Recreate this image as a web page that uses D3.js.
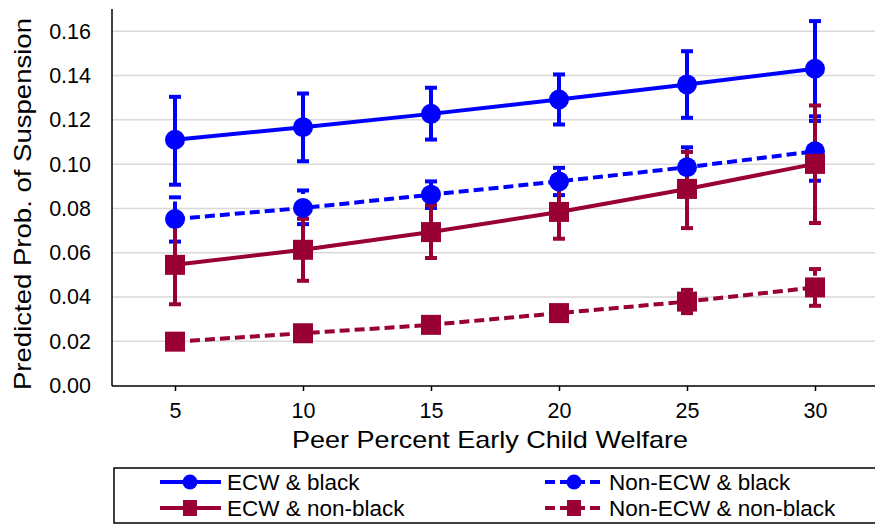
<!DOCTYPE html>
<html>
<head>
<meta charset="utf-8">
<script src="https://cdn.jsdelivr.net/npm/d3@7"></script>
<style>
  html, body { margin: 0; padding: 0; background: #fff; }
  svg { display: block; font-family: "Liberation Sans", Arial, sans-serif; }
</style>
</head>
<body>
<svg id="chart" width="875" height="525"></svg>
<script>
// ---- Data ----
const xValues = [5, 10, 15, 20, 25, 30];
const xTickLabels = ["5", "10", "15", "20", "25", "30"];
const yTickValues = [0, 0.02, 0.04, 0.06, 0.08, 0.10, 0.12, 0.14, 0.16];

const seriesNames = ["ECW & black", "Non-ECW & black", "ECW & non-black", "Non-ECW & non-black"];

const ecwBlack      = [0.1110, 0.1167, 0.1227, 0.1292, 0.1360, 0.1431];
const ecwBlackLo    = [0.0907, 0.1013, 0.1111, 0.1179, 0.1209, 0.1216];
const ecwBlackHi    = [0.1304, 0.1319, 0.1345, 0.1405, 0.1510, 0.1646];

const nonEcwBlack   = [0.0752, 0.0802, 0.0862, 0.0922, 0.0986, 0.1058];
const nonEcwBlackLo = [0.0650, 0.0729, 0.0802, 0.0860, 0.0896, 0.0925];
const nonEcwBlackHi = [0.0850, 0.0881, 0.0922, 0.0983, 0.1076, 0.1195];

const ecwNonBlack   = [0.0545, 0.0613, 0.0693, 0.0784, 0.0888, 0.1001];
const ecwNonBlackLo = [0.0367, 0.0473, 0.0576, 0.0663, 0.0711, 0.0734];
const ecwNonBlackHi = [0.0723, 0.0753, 0.0815, 0.0905, 0.1055, 0.1265];

const nonEcwNonBlack   = [0.0198, 0.0236, 0.0274, 0.0327, 0.0379, 0.0443];
const nonEcwNonBlackLo = [0.0180, 0.0216, 0.0252, 0.0300, 0.0327, 0.0360];
const nonEcwNonBlackHi = [0.0216, 0.0256, 0.0296, 0.0354, 0.0432, 0.0526];

// ---- Styles (kept separate from data) ----
const BLUE = "#0000ff", RED = "#990033";
const styles = [
  { color: BLUE, dashed: false, marker: "circle" },
  { color: BLUE, dashed: true,  marker: "circle" },
  { color: RED,  dashed: false, marker: "square" },
  { color: RED,  dashed: true,  marker: "square" }
];
const seriesData = [
  [ecwBlack, ecwBlackLo, ecwBlackHi],
  [nonEcwBlack, nonEcwBlackLo, nonEcwBlackHi],
  [ecwNonBlack, ecwNonBlackLo, ecwNonBlackHi],
  [nonEcwNonBlack, nonEcwNonBlackLo, nonEcwNonBlackHi]
];
const series = seriesNames.map((name, i) => ({
  name, ...styles[i],
  points: xValues.map((x, j) => ({ x, y: seriesData[i][0][j], lo: seriesData[i][1][j], hi: seriesData[i][2][j] }))
}));

const DASH = "10,5";
const svg = d3.select("#chart");
const W = 875;
const left = 112, axisY = 386;

const x = d3.scaleLinear().domain([2.5, 32.5]).range([111, 879]);
const y = d3.scaleLinear().domain([0, 0.17]).range([385.5, 385.5 - 0.17 * 2213.75]);

// gridlines
svg.append("g").selectAll("line")
  .data(yTickValues.filter(d => d > 0))
  .join("line")
  .attr("x1", left).attr("x2", W)
  .attr("y1", d => y(d)).attr("y2", d => y(d))
  .attr("stroke", "#d9d9d9").attr("stroke-width", 1.5);

// y axis (labels only, line drawn separately)
const yAxis = d3.axisLeft(y).tickValues(yTickValues).tickFormat(d3.format(".2f")).tickSize(0).tickPadding(0);
const gy = svg.append("g").attr("transform", "translate(91,0)").call(yAxis);
gy.select(".domain").remove();
gy.selectAll("text").attr("font-size", 21.5).attr("fill", "#000")
  .attr("font-family", "Liberation Sans, Arial, sans-serif");

// x axis
const xAxis = d3.axisBottom(x).tickValues(xValues).tickFormat((d, i) => xTickLabels[i]).tickSize(5).tickPadding(12);
const gx = svg.append("g").attr("transform", `translate(0,${axisY})`).call(xAxis);
gx.select(".domain").remove();
gx.selectAll(".tick line").attr("stroke", "#000").attr("stroke-width", 1.5);
gx.selectAll("text").attr("font-size", 21.5).attr("fill", "#000")
  .attr("font-family", "Liberation Sans, Arial, sans-serif");

// axis lines
svg.append("line").attr("x1", left).attr("x2", W).attr("y1", axisY).attr("y2", axisY)
  .attr("stroke", "#000").attr("stroke-width", 1.5);
svg.append("line").attr("x1", left).attr("x2", left).attr("y1", 9).attr("y2", axisY)
  .attr("stroke", "#000").attr("stroke-width", 1.5);

// axis titles
svg.append("text").attr("x", 490).attr("y", 448).attr("text-anchor", "middle")
  .attr("font-size", 24).attr("textLength", 396).attr("lengthAdjust", "spacingAndGlyphs")
  .text("Peer Percent Early Child Welfare");
svg.append("text").attr("transform", "translate(31,204) rotate(-90)").attr("text-anchor", "middle")
  .attr("font-size", 24).attr("textLength", 372).attr("lengthAdjust", "spacingAndGlyphs")
  .text("Predicted Prob. of Suspension");

// lines
const line = d3.line().x(d => x(d.x)).y(d => y(d.y));
svg.append("g").selectAll("path").data(series).join("path")
  .attr("d", d => line(d.points))
  .attr("fill", "none").attr("stroke", d => d.color).attr("stroke-width", 4)
  .attr("stroke-dasharray", d => d.dashed ? DASH : null);

// error bars
const eb = svg.append("g");
series.forEach(s => {
  const g = eb.append("g");
  g.selectAll("line.bar").data(s.points).join("line").attr("class", "bar")
    .attr("x1", d => x(d.x)).attr("x2", d => x(d.x))
    .attr("y1", d => y(d.lo)).attr("y2", d => y(d.hi))
    .attr("stroke", s.color).attr("stroke-width", 4)
    .attr("stroke-dasharray", s.dashed ? DASH : null);
  ["lo", "hi"].forEach(k => {
    g.selectAll("line.cap-" + k).data(s.points).join("line").attr("class", "cap-" + k)
      .attr("x1", d => x(d.x) - 6).attr("x2", d => x(d.x) + 6)
      .attr("y1", d => y(d[k])).attr("y2", d => y(d[k]))
      .attr("stroke", s.color).attr("stroke-width", 4);
  });
});

// markers
const mk = svg.append("g");
series.forEach(s => {
  if (s.marker === "circle") {
    mk.append("g").selectAll("circle").data(s.points).join("circle")
      .attr("cx", d => x(d.x)).attr("cy", d => y(d.y)).attr("r", 10).attr("fill", s.color);
  } else {
    mk.append("g").selectAll("rect").data(s.points).join("rect")
      .attr("x", d => x(d.x) - 10).attr("y", d => y(d.y) - 10)
      .attr("width", 20).attr("height", 20).attr("fill", s.color);
  }
});

// legend
const lg = svg.append("g");
lg.append("rect").attr("x", 114).attr("y", 468).attr("width", 800).attr("height", 55)
  .attr("fill", "none").attr("stroke", "#000").attr("stroke-width", 1.5);
const legendPos = [
  { x0: 160, x1: 221, mx: 190, tx: 227, y: 482 },
  { x0: 545, x1: 604, mx: 574, tx: 609, y: 482 },
  { x0: 160, x1: 221, mx: 190, tx: 227, y: 508 },
  { x0: 545, x1: 604, mx: 574, tx: 609, y: 508 }
];
series.forEach((s, i) => {
  const p = legendPos[i];
  lg.append("line").attr("x1", p.x0).attr("x2", p.x1).attr("y1", p.y).attr("y2", p.y)
    .attr("stroke", s.color).attr("stroke-width", 4)
    .attr("stroke-dasharray", s.dashed ? DASH : null);
  if (s.marker === "circle") {
    lg.append("circle").attr("cx", p.mx).attr("cy", p.y).attr("r", 7.5).attr("fill", s.color);
  } else {
    lg.append("rect").attr("x", p.mx - 7).attr("y", p.y - 8).attr("width", 14).attr("height", 16).attr("fill", s.color);
  }
  lg.append("text").attr("x", p.tx).attr("y", p.y).attr("dy", "0.36em")
    .attr("font-size", 22.5).attr("fill", "#000").text(s.name);
});
</script>
</body>
</html>
